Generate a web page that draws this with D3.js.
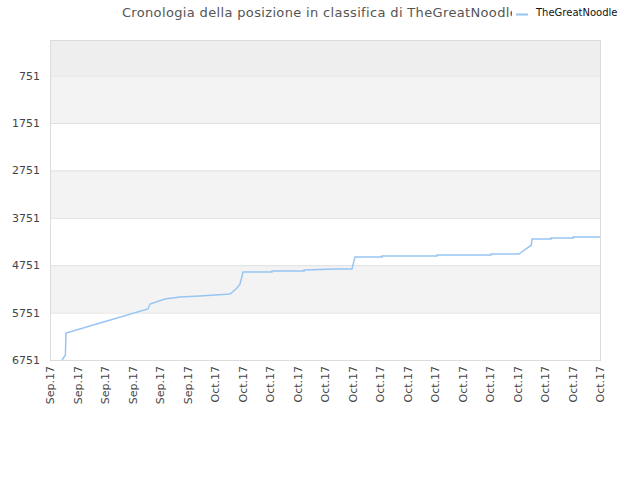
<!DOCTYPE html>
<html>
<head>
<meta charset="utf-8">
<script src="https://cdn.jsdelivr.net/npm/d3@7"></script>
<style>
  body { margin: 0; background: #fff; }
  text { font-family: "DejaVu Sans", sans-serif; }
</style>
</head>
<body>
<svg id="chart" width="640" height="480"></svg>
<script>
// tick labels along the x axis (one per day)
var tickLabels = ["Sep.17","Sep.17","Sep.17","Sep.17","Sep.17","Sep.17",
    "Oct.17","Oct.17","Oct.17","Oct.17","Oct.17","Oct.17","Oct.17","Oct.17",
    "Oct.17","Oct.17","Oct.17","Oct.17","Oct.17","Oct.17","Oct.17"];
var rankTicks = [751, 1751, 2751, 3751, 4751, 5751, 6751];

// day (fractional, 0 = first tick) and ranking position
var days =  [0.44, 0.56, 0.58, 2.07, 3.56, 3.64, 4.18, 4.73, 5.45, 6.55, 6.80, 6.91, 7.02,
             8.07, 8.07, 9.24, 9.24, 10.40, 10.98, 11.09, 12.07, 12.07, 14.07, 14.07,
             16.04, 16.04, 17.05, 17.45, 17.50, 17.53, 18.22, 18.22, 19.02, 19.02, 20.0];
var ranks = [6751, 6646, 6181, 5928, 5675, 5570, 5464, 5422, 5401, 5359, 5232, 5148, 4895,
             4895, 4874, 4874, 4853, 4832, 4832, 4579, 4579, 4558, 4558, 4537,
             4537, 4516, 4516, 4347, 4325, 4199, 4199, 4178, 4178, 4157, 4157];

var seriesName = "TheGreatNoodle";
var title = "Cronologia della posizione in classifica di TheGreatNoodle";

(function()
{
    "use strict";

    const LEFT = 50, RIGHT = 600, TOP = 40, BOTTOM = 360;
    const LINE_COLOR = "#96c5f3";

    var svg = d3.select("#chart");

    var x = d3.scaleLinear().domain([0, tickLabels.length - 1]).range([LEFT, RIGHT]);
    var y = d3.scaleLinear().domain([1, 6751]).range([TOP, BOTTOM]);

    // Background bands between ticks
    var bandEdges = [1].concat(rankTicks);
    var bandColors = ["#eeeeee", "#f3f3f3", "#ffffff", "#f3f3f3", "#ffffff", "#f3f3f3", "#ffffff"];
    svg.append("g")
        .selectAll("rect")
        .data(d3.range(bandEdges.length - 1))
        .enter().append("rect")
            .attr("x", LEFT)
            .attr("width", RIGHT - LEFT)
            .attr("y", function(i) { return y(bandEdges[i]); })
            .attr("height", function(i) { return y(bandEdges[i + 1]) - y(bandEdges[i]); })
            .attr("fill", function(i) { return bandColors[i]; });

    // Grid lines
    svg.append("g")
        .selectAll("line")
        .data(rankTicks)
        .enter().append("line")
            .attr("x1", LEFT).attr("x2", RIGHT)
            .attr("y1", function(d) { return y(d) + 0.5; })
            .attr("y2", function(d) { return y(d) + 0.5; })
            .attr("stroke", "#e0e0e0");

    // Frame
    svg.append("rect")
        .attr("x", LEFT + 0.5).attr("y", TOP + 0.5)
        .attr("width", RIGHT - LEFT).attr("height", BOTTOM - TOP)
        .attr("fill", "none")
        .attr("stroke", "#dcdcdc");

    // Y axis
    var yAxis = svg.append("g")
        .attr("transform", "translate(" + LEFT + ",0)")
        .call(d3.axisLeft(y).tickValues(rankTicks).tickSize(0).tickPadding(10).tickFormat(d3.format("d")));
    yAxis.select(".domain").remove();
    yAxis.selectAll("text").attr("fill", "#444").style("font-size", "11px")
        .style("font-family", "DejaVu Sans, sans-serif");

    // X axis
    var xAxis = svg.append("g")
        .attr("transform", "translate(0," + BOTTOM + ")")
        .call(d3.axisBottom(x).tickValues(d3.range(tickLabels.length)).tickSize(0)
            .tickFormat(function(d) { return tickLabels[d]; }));
    xAxis.select(".domain").remove();
    xAxis.selectAll("text")
        .attr("fill", "#444")
        .style("font-size", "11px")
        .style("font-family", "DejaVu Sans, sans-serif")
        .attr("text-anchor", "end")
        .attr("dy", "0.35em")
        .attr("transform", "translate(0,6) rotate(-90)")
        .attr("x", 0).attr("y", 0);

    // Ranking line
    var line = d3.line()
        .x(function(d, i) { return x(days[i]); })
        .y(function(d, i) { return y(ranks[i]); });
    svg.append("path")
        .datum(days)
        .attr("d", line)
        .attr("fill", "none")
        .attr("stroke", LINE_COLOR)
        .attr("stroke-width", 1.5);

    // Title
    svg.append("text")
        .attr("x", 320).attr("y", 17)
        .attr("text-anchor", "middle")
        .attr("fill", "#555")
        .style("font-size", "13px")
        .style("letter-spacing", "0.35px")
        .text(title);

    // Legend (covers the end of the title)
    var legend = svg.append("g");
    legend.append("rect")
        .attr("x", 512).attr("y", 2).attr("width", 128).attr("height", 22)
        .attr("fill", "#fff");
    legend.append("line")
        .attr("x1", 516).attr("x2", 528).attr("y1", 14.5).attr("y2", 14.5)
        .attr("stroke", LINE_COLOR).attr("stroke-width", 2);
    legend.append("text")
        .attr("x", 536).attr("y", 16)
        .attr("fill", "#111")
        .style("font-size", "10px")
        .text(seriesName);
})();
</script>
</body>
</html>
